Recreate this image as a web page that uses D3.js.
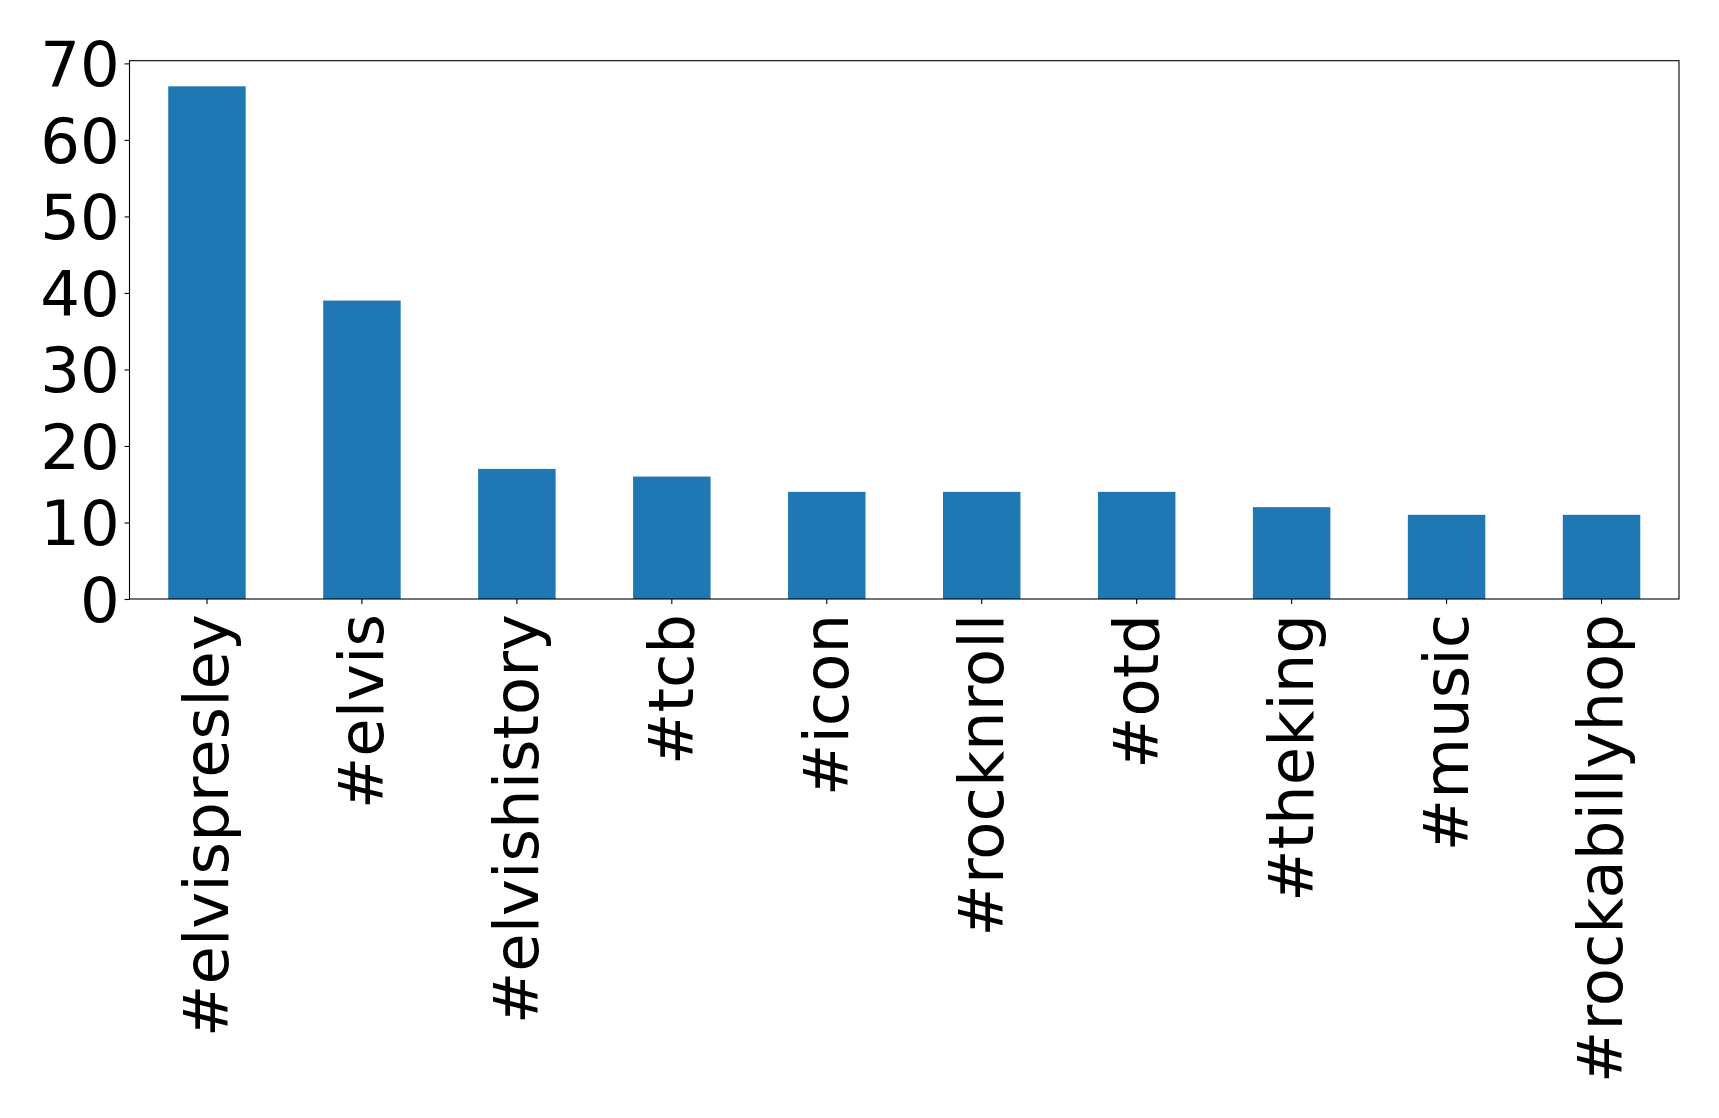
<!DOCTYPE html>
<html>
<head>
<meta charset="utf-8">
<script src="https://cdn.jsdelivr.net/npm/d3@7/dist/d3.min.js"></script>
<style>
  html, body { margin: 0; padding: 0; background: #fff; }
  svg { display: block; }
  text { font-family: "DejaVu Sans", sans-serif; fill: #000; }
</style>
</head>
<body>
<svg id="chart" width="1719" height="1118"></svg>
<script>
const categories = ["#elvispresley", "#elvis", "#elvishistory", "#tcb", "#icon", "#rocknroll", "#otd", "#theking", "#music", "#rockabillyhop"];
const counts = [67, 39, 17, 16, 14, 14, 14, 12, 11, 11];
const yTicks = [0, 10, 20, 30, 40, 50, 60, 70];

const W = 1719, H = 1118;
const margin = { left: 129.5, right: W - 1679, top: 60.7, bottom: H - 599 };
const fontSize = 62.5;

const svg = d3.select("#chart");
const iw = W - margin.left - margin.right;
const ih = H - margin.top - margin.bottom;

const g = svg.append("g").attr("transform", `translate(${margin.left},${margin.top})`);

const x = d3.scaleBand().domain(categories).range([0, iw]).paddingInner(0.5).paddingOuter(0.25);
const y = d3.scaleLinear().domain([0, d3.max(counts) * 1.05]).range([ih, 0]);

// bars
g.selectAll("rect.bar")
  .data(categories)
  .enter().append("rect")
  .attr("class", "bar")
  .attr("x", d => x(d))
  .attr("width", x.bandwidth())
  .attr("y", (d, i) => y(counts[i]))
  .attr("height", (d, i) => y(0) - y(counts[i]))
  .attr("fill", "#1f77b4");

// y axis
const yAxis = g.append("g")
  .call(d3.axisLeft(y).tickValues(yTicks).tickFormat(d3.format("d")).tickSize(4.9).tickPadding(4.9));
yAxis.select(".domain").remove();
yAxis.selectAll(".tick line").attr("stroke", "#000").attr("stroke-width", 1.1);
yAxis.selectAll(".tick text")
  .attr("font-size", fontSize)
  .attr("font-family", "DejaVu Sans")
  .attr("dy", "0.36em");

// x axis
const xAxis = g.append("g")
  .attr("transform", `translate(0,${ih})`)
  .call(d3.axisBottom(x).tickSize(4.9).tickPadding(0));
xAxis.select(".domain").remove();
xAxis.selectAll(".tick line").attr("stroke", "#000").attr("stroke-width", 1.1);
xAxis.selectAll(".tick text")
  .attr("font-size", fontSize)
  .attr("font-family", "DejaVu Sans")
  .attr("text-anchor", "end")
  .attr("x", 0)
  .attr("y", 0)
  .attr("dy", "0.335em")
  .attr("transform", "translate(0,15) rotate(-90)");

// frame
g.append("rect")
  .attr("x", 0).attr("y", 0)
  .attr("width", iw).attr("height", ih)
  .attr("fill", "none")
  .attr("stroke", "#000")
  .attr("stroke-width", 1.1);
</script>
</body>
</html>
